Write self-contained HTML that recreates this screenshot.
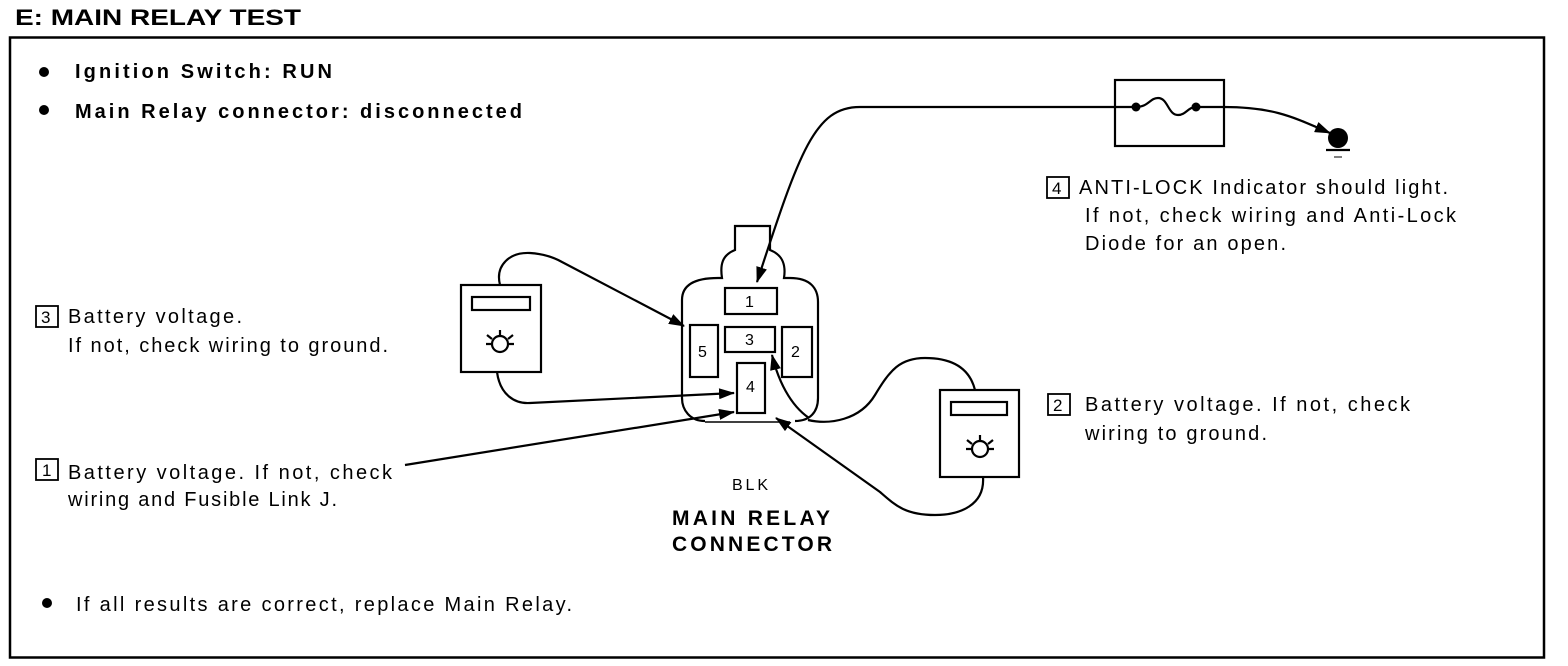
<!DOCTYPE html>
<html><head><meta charset="utf-8"><style>
html,body{margin:0;padding:0;background:#fff;}
svg{display:block;}
text{font-family:"Liberation Sans",Arial,sans-serif;fill:#000;}
</style></head><body>
<svg width="1568" height="666" viewBox="0 0 1568 666" xmlns="http://www.w3.org/2000/svg">
<defs>
<marker id="ah" markerWidth="16" markerHeight="11" refX="15" refY="5.5" orient="auto" markerUnits="userSpaceOnUse">
<path d="M0,0 L16,5.5 L0,11 Z" fill="#000"/>
</marker>
</defs>
<text x="15" y="25" font-size="22" font-weight="bold" textLength="286" lengthAdjust="spacingAndGlyphs">E: MAIN RELAY TEST</text>
<rect x="10" y="37.5" width="1534" height="620" fill="none" stroke="#000" stroke-width="2.5"/>

<circle cx="44" cy="72" r="5"/>
<text x="75" y="78" font-size="20" font-weight="bold" textLength="257" lengthAdjust="spacing">Ignition  Switch: RUN</text>
<circle cx="44" cy="110" r="5"/>
<text x="75" y="118" font-size="20" font-weight="bold" textLength="447" lengthAdjust="spacing">Main Relay connector: disconnected</text>

<g fill="none" stroke="#000" stroke-width="2.2">
<path d="M705,421 C690,421 682,410 682,398 L682,300 C682,285 695,278 718,278 L722,278 C720,265 722,255 735,250 L735,226 L770,226 L770,250 C783,255 786,265 784,278 L790,278 C810,278 818,288 818,302 L818,398 C818,412 810,421 795,421"/>
<line x1="705" y1="422" x2="790" y2="422" stroke-width="1.5"/>
<rect x="725" y="288" width="52" height="26"/>
<rect x="725" y="327" width="50" height="25"/>
<rect x="690" y="325" width="28" height="52"/>
<rect x="782" y="327" width="30" height="50"/>
<rect x="737" y="363" width="28" height="50"/>
<rect x="461" y="285" width="80" height="87"/>
<rect x="472" y="297" width="58" height="13"/>
<circle cx="500" cy="344" r="8"/>
<path d="M500,336 v-6 M492,339 l-5,-4 M508,339 l5,-4 M492,344 h-6 M508,344 h6"/>
<rect x="940" y="390" width="79" height="87"/>
<rect x="951" y="402" width="56" height="13"/>
<circle cx="980" cy="449" r="8"/>
<path d="M980,441 v-6 M972,444 l-5,-4 M988,444 l5,-4 M972,449 h-6 M988,449 h6"/>
<rect x="1115" y="80" width="109" height="66"/>
<path d="M1136,107 C1148,107 1150,98 1158,98 C1168,98 1168,115 1178,115 C1186,115 1188,107 1196,107"/>
<path d="M500,285 C495,265 510,252 530,253 C545,254 555,258 562,262 L684,326" marker-end="url(#ah)"/>
<path d="M497,372 C500,395 515,404 530,403 L734,393" marker-end="url(#ah)"/>
<path d="M405,465 L734,412" marker-end="url(#ah)"/>
<path d="M808,420 C830,425 860,420 875,395 C890,370 900,358 925,358 C955,358 970,370 975,390"/>
<path d="M983,477 C985,505 960,515 935,515 C905,515 895,505 880,492 L776,418" marker-end="url(#ah)"/>
<path d="M809,418 C790,405 778,380 772,355" marker-end="url(#ah)"/>
<path d="M1136,107 L860,107 C815,107 800,150 757,282" marker-end="url(#ah)"/>
<path d="M1196,107 L1224,107 C1275,107 1295,118 1330,133" marker-end="url(#ah)"/>
<line x1="1326" y1="150" x2="1350" y2="150"/>
</g>
<circle cx="1136" cy="107" r="4.5"/>
<circle cx="1196" cy="107" r="4.5"/>
<circle cx="1338" cy="138" r="10"/>
<line x1="1334" y1="157" x2="1342" y2="157" stroke="#000" stroke-width="1"/>

<g font-size="16">
<text x="745" y="307">1</text>
<text x="745" y="345">3</text>
<text x="698" y="357">5</text>
<text x="791" y="357">2</text>
<text x="746" y="392">4</text>
</g>

<g font-size="20">
<rect x="36" y="306" width="22" height="21" fill="none" stroke="#000" stroke-width="1.8"/>
<text x="41" y="323" font-size="17">3</text>
<text x="68" y="323" textLength="174" lengthAdjust="spacing">Battery voltage.</text>
<text x="68" y="352" textLength="320" lengthAdjust="spacing">If not, check wiring to ground.</text>

<rect x="36" y="459" width="22" height="21" fill="none" stroke="#000" stroke-width="1.8"/>
<text x="42" y="476" font-size="17">1</text>
<text x="68" y="479" textLength="324" lengthAdjust="spacing">Battery voltage. If not, check</text>
<text x="68" y="506" textLength="269" lengthAdjust="spacing">wiring and Fusible Link J.</text>

<rect x="1047" y="177" width="22" height="21" fill="none" stroke="#000" stroke-width="1.8"/>
<text x="1052" y="194" font-size="17">4</text>
<text x="1079" y="194" textLength="369" lengthAdjust="spacing">ANTI-LOCK Indicator should light.</text>
<text x="1085" y="222" textLength="371" lengthAdjust="spacing">If not, check wiring and Anti-Lock</text>
<text x="1085" y="250" textLength="201" lengthAdjust="spacing">Diode for an open.</text>

<rect x="1048" y="394" width="22" height="21" fill="none" stroke="#000" stroke-width="1.8"/>
<text x="1053" y="411" font-size="17">2</text>
<text x="1085" y="411" textLength="325" lengthAdjust="spacing">Battery voltage. If not, check</text>
<text x="1085" y="440" textLength="182" lengthAdjust="spacing">wiring to ground.</text>

<circle cx="47" cy="603" r="5"/>
<text x="76" y="611" textLength="496" lengthAdjust="spacing">If all results are correct, replace Main Relay.</text>
</g>

<text x="732" y="490" font-size="16" textLength="36" lengthAdjust="spacing">BLK</text>
<text x="672" y="525" font-size="21" font-weight="bold" textLength="158" lengthAdjust="spacing">MAIN RELAY</text>
<text x="672" y="551" font-size="21" font-weight="bold" textLength="160" lengthAdjust="spacing">CONNECTOR</text>
</svg>
</body></html>
